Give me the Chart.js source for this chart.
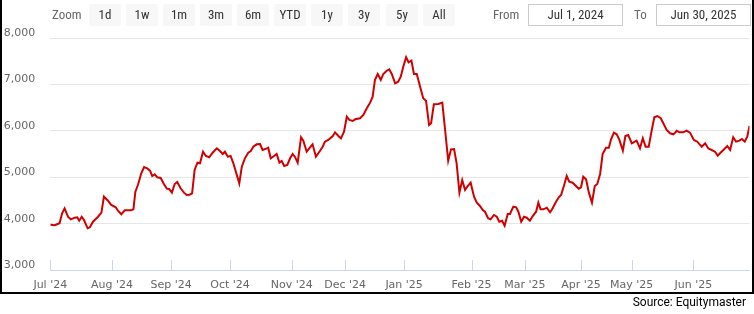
<!DOCTYPE html>
<html>
<head>
<meta charset="utf-8">
<script src="https://cdn.jsdelivr.net/npm/chart.js@4.4.1/dist/chart.umd.min.js"></script>
<style>
  html, body { margin:0; padding:0; background:#fff; }
  #wrap { position:relative; width:754px; height:314px; overflow:hidden; }
  #c { position:absolute; left:0; top:0; }
  .frame { position:absolute; left:0; top:0; width:754px; height:294px; box-sizing:border-box;
           border-left:2px solid #000; border-right:2px solid #000; border-bottom:2px solid #000; pointer-events:none; }
  .nar { font-family:"Liberation Sans Narrow","Arial Narrow","Roboto Condensed","Liberation Sans",sans-serif; font-size:13px; }
  .lbl { position:absolute; top:4px; height:22px; line-height:22px; color:#666; }
  .btn { position:absolute; top:4px; height:22px; width:32px; line-height:22px; background:#f7f7f7; color:#333;
         text-align:center; border-radius:2px; }
  .inp { position:absolute; top:4px; height:22px; line-height:20px; box-sizing:border-box; border:1px solid #ccc;
         color:#333; text-align:center; background:#fff; }
  .src { position:absolute; right:8px; top:294px; font-family:Roboto,"Liberation Sans",sans-serif; font-size:12px; color:#000; line-height:16px; }
</style>
</head>
<body>
<div id="wrap">
  <canvas id="c" width="754" height="314"></canvas>
  <div class="frame"></div>
  <div class="lbl nar" style="left:52px">Zoom</div>
  <div class="btn nar" style="left:89px">1d</div>
  <div class="btn nar" style="left:126px">1w</div>
  <div class="btn nar" style="left:163px">1m</div>
  <div class="btn nar" style="left:200px">3m</div>
  <div class="btn nar" style="left:237px">6m</div>
  <div class="btn nar" style="left:274px">YTD</div>
  <div class="btn nar" style="left:311px">1y</div>
  <div class="btn nar" style="left:348px">3y</div>
  <div class="btn nar" style="left:386px">5y</div>
  <div class="btn nar" style="left:423px">All</div>
  <div class="lbl nar" style="left:493px">From</div>
  <div class="inp nar" style="left:528px;width:95px">Jul 1, 2024</div>
  <div class="lbl nar" style="left:634px">To</div>
  <div class="inp nar" style="left:656px;width:95px">Jun 30, 2025</div>
  <div class="src">Source: Equitymaster</div>
</div>
<script>
// trading-day index (Jul 1, 2024 = 0) and closing values
const days = [0,1.6,3.3,4.2,5.1,6.3,7.3,8.7,9.6,10.3,11.2,12.0,13.3,14.1,15.2,17.0,18.2,19.1,20.3,21.7,23.3,24.1,25.3,26.5,28.8,29.6,30.3,31.2,32.4,33.4,34.5,35.5,36.3,37.2,38.1,39.3,40.5,41.5,42.3,43.3,44.3,45.2,46.4,47.6,48.6,49.6,50.5,51.4,52.4,53.3,54.4,55.4,56.6,57.8,59.3,60.4,61.4,62.2,63.2,64.2,65.2,67.3,68.2,69.3,70.5,71.4,72.3,73.5,74.7,75.6,77.1,77.6,78.5,79.7,80.6,81.6,82.4,83.3,84.4,85.4,86.3,87.1,88.1,89.3,90.1,91.3,92.5,93.4,94.6,96.0,97.0,97.8,99.0,100.6,101.4,102.6,103.5,104.6,105.6,106.5,107.7,108.6,110.3,111.5,112.7,113.9,114.8,115.6,116.6,117.7,118.6,119.8,120.7,121.6,122.8,123.9,124.8,125.7,126.7,127.6,128.6,129.5,130.5,131.7,132.8,133.8,134.9,135.6,136.6,138.2,139.6,140.6,141.7,142.7,143.8,144.7,145.7,146.7,147.7,148.5,149.7,150.9,151.9,153.0,154.0,154.8,155.9,156.8,158.0,159.0,159.9,160.9,161.8,162.9,163.7,164.9,165.9,166.7,167.7,168.7,169.7,170.8,171.8,173.0,173.8,174.6,175.6,176.8,178.0,178.9,180.1,181.1,181.9,182.9,183.9,184.8,186.0,187.2,188.2,189.0,189.8,190.8,191.8,192.9,193.9,194.8,195.8,196.7,197.9,198.9,199.7,200.7,201.7,202.6,203.9,204.8,205.8,207.1,208.8,210.0,211.0,212.0,213.1,214.2,215.1,216.2,217.4,218.3,219.5,220.7,221.9,223.1,224.0,225.4,226.6,227.8,229.2,230.4,232.0,233.2,234.3,235.5,236.7,237.7,238.5,239.7,241.1,242.1,243.2,244.2,245.4,246.3,247.3,248.2,249.0];
const prices = [3978,3965,4008,4224,4331,4150,4094,4129,4137,4064,4150,4079,3900,3921,4042,4150,4237,4582,4511,4403,4353,4280,4202,4288,4288,4310,4690,4834,5087,5223,5195,5143,5029,5065,5001,4986,4850,4756,4750,4669,4856,4899,4763,4669,4619,4625,4655,5158,5315,5302,5553,5460,5432,5531,5626,5568,5503,5553,5445,5460,5302,4871,5229,5410,5531,5568,5661,5712,5719,5590,5626,5640,5410,5460,5503,5316,5352,5244,5266,5410,5503,5445,5316,5863,5791,5553,5648,5712,5445,5568,5661,5769,5805,5892,5971,5892,5842,5985,6308,6237,6216,6252,6273,6345,6489,6611,6740,7100,7230,7100,7230,7301,7331,7230,7029,7064,7172,7388,7590,7482,7517,7230,7230,6956,6705,6654,6129,6165,6576,6582,6611,6021,5359,5604,5611,5302,4669,4942,4726,4798,4884,4582,4453,4381,4295,4258,4116,4094,4187,4150,4042,4064,3956,4208,4208,4366,4353,4258,4042,4150,4129,4064,4165,4258,4453,4310,4310,4345,4245,4331,4474,4569,4619,4813,5029,4906,4884,4813,4755,4785,5013,4957,4669,4453,4813,4856,5072,5503,5640,5640,5820,5964,5928,5820,5575,5892,5913,5734,5791,5626,5842,5661,5661,6021,6295,6323,6274,6166,6021,5950,5928,6006,5971,5971,6006,5964,5806,5769,5661,5734,5626,5590,5553,5467,5518,5590,5676,5590,5864,5769,5791,5827,5769,5878,6108];
const monthStarts = [0,22,43,64,86,105,126,150,169,189,207,229];
const monthLabels = ["Jul '24","Aug '24","Sep '24","Oct '24","Nov '24","Dec '24","Jan '25","Feb '25","Mar '25","Apr '25","May '25","Jun '25"];
const yTicks = [3000,4000,5000,6000,7000,8000];

const points = days.map((d,i)=>({x:d, y:prices[i]}));

const innerTicks = {
  id:'innerTicks',
  afterDraw(chart){
    const xs = chart.scales.x, ctx = chart.ctx, b = chart.chartArea.bottom;
    ctx.save();
    ctx.strokeStyle = '#ccd6eb'; ctx.lineWidth = 1;
    xs.ticks.forEach(t=>{
      const px = Math.round(xs.getPixelForValue(t.value)) + 0.5;
      ctx.beginPath(); ctx.moveTo(px, b - 10); ctx.lineTo(px, b); ctx.stroke();
    });
    ctx.restore();
  }
};

new Chart(document.getElementById('c'), {
  type:'line',
  data:{ datasets:[{ data:points, borderColor:'#d00000', borderWidth:2, pointRadius:0, tension:0, fill:false }] },
  options:{
    responsive:false, animation:false,
    layout:{ autoPadding:false, padding:{ left:0, right:4.5, top:38.3, bottom:0 } },
    plugins:{ legend:{display:false}, tooltip:{enabled:false} },
    scales:{
      x:{
        type:'linear', min:0, max:249,
        afterBuildTicks(s){ s.ticks = monthStarts.map(v=>({value:v})); },
        afterFit(s){ s.height = 44; },
        grid:{ drawOnChartArea:false, drawTicks:false },
        border:{ color:'#ccd6eb', width:1 },
        ticks:{ autoSkip:false, maxRotation:0, padding:9, color:'#666', font:{family:'DejaVu Sans', size:11},
          callback(v){ const i = monthStarts.indexOf(v); return i>=0 ? monthLabels[i] : ''; } }
      },
      y:{
        min:3000, max:8000,
        afterBuildTicks(s){ s.ticks = yTicks.map(v=>({value:v})); },
        afterFit(s){ s.width = 50.3; },
        grid:{ color:'#e6e6e6', drawTicks:false },
        border:{ display:false },
        ticks:{ padding:15, labelOffset:-5, color:'#666', font:{family:'DejaVu Sans', size:11},
          callback(v){ return v.toLocaleString('en-US'); } }
      }
    }
  },
  plugins:[innerTicks]
});
</script>
</body>
</html>
